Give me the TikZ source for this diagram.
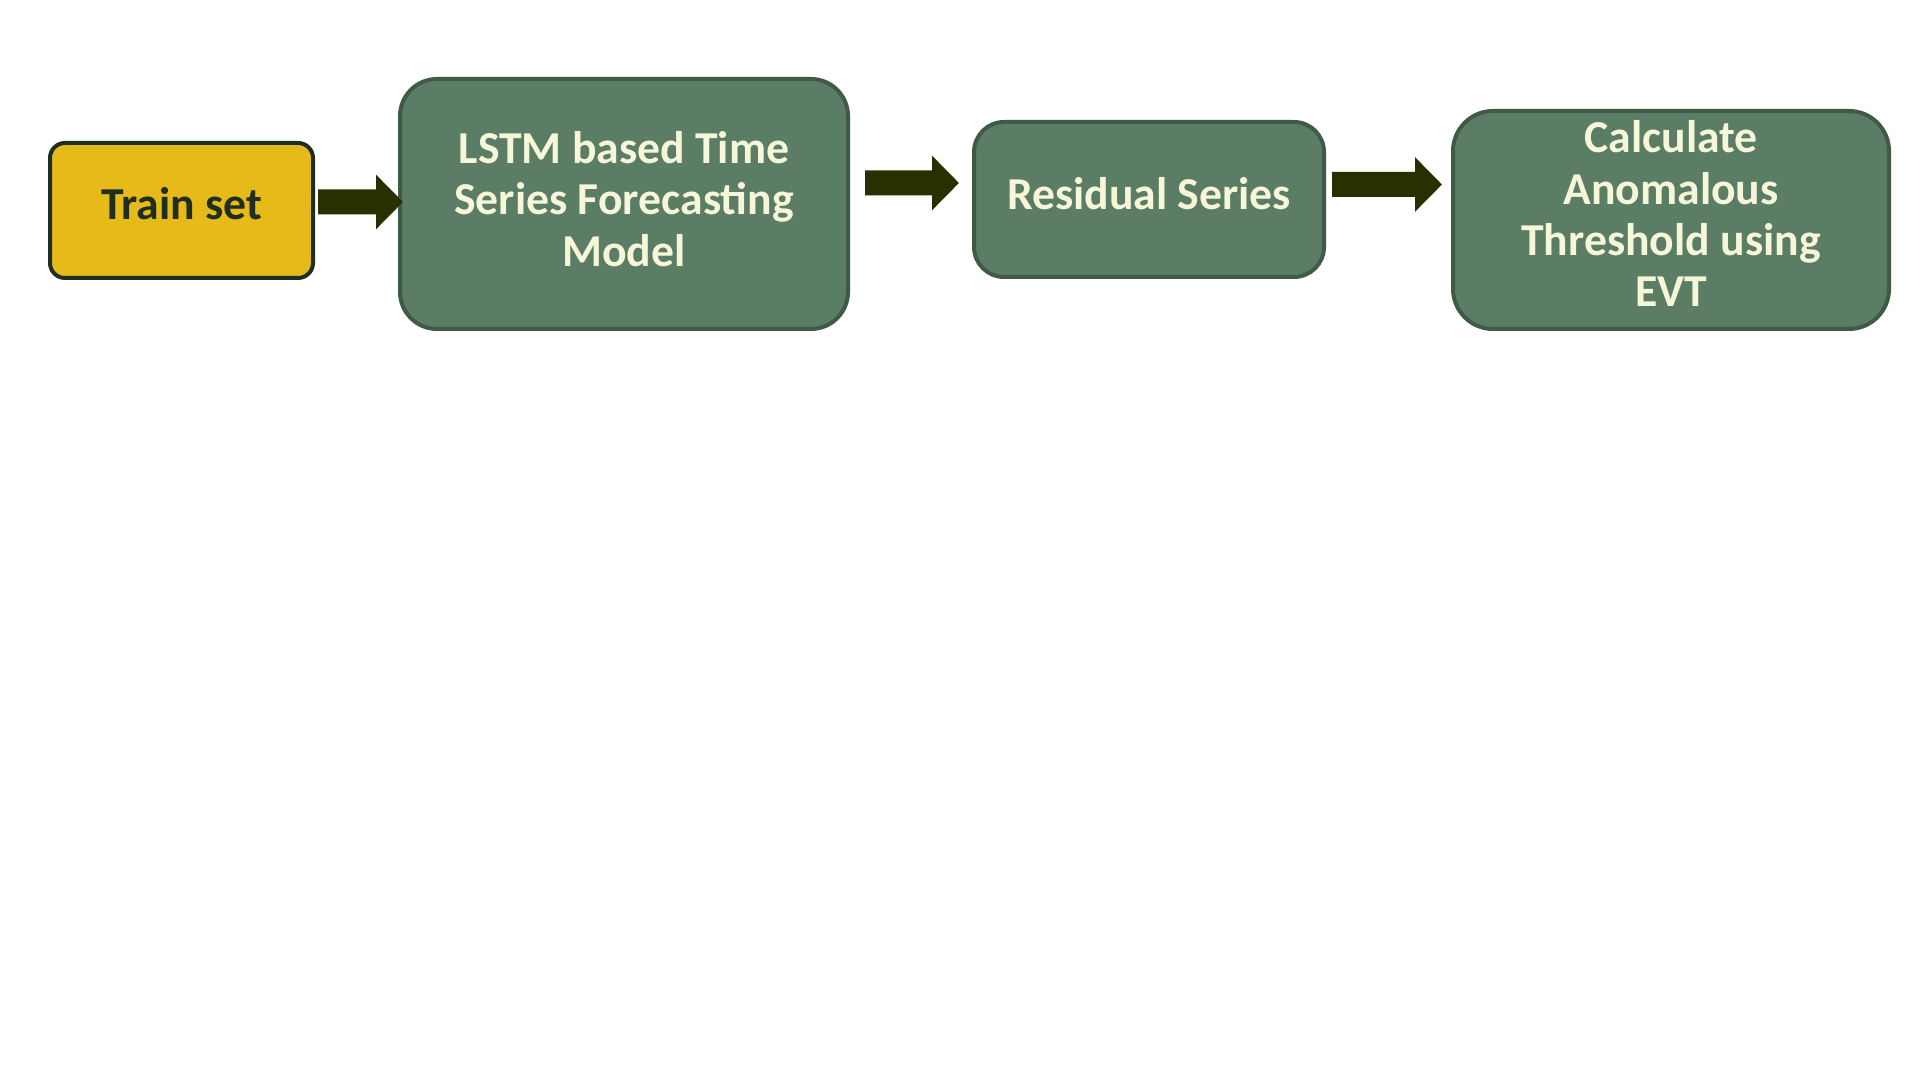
\documentclass[tikz,border=0pt]{standalone}
\usepackage{fontspec}
\setmainfont{Carlito}
\usetikzlibrary{arrows.meta}

\definecolor{boxgreen}{HTML}{5B7C65}
\definecolor{edgegreen}{HTML}{3F5A45}
\definecolor{trainyellow}{HTML}{E6BA18}
\definecolor{edgedark}{HTML}{1F2E1F}
\definecolor{arrowolive}{HTML}{283000}
\definecolor{creamtext}{HTML}{F6F6D8}

\begin{document}
\begin{tikzpicture}[
    stage/.style={draw=edgegreen, line width=0.04cm, fill=boxgreen, inner ysep=0pt,
      text=creamtext, align=center, font=\fontsize{13}{14.6}\selectfont\bfseries},
    flow/.style={arrowolive, line width=0.25cm,
      -{Triangle[length=0.27cm, width=0.53cm]}}
  ]
    %\draw[help lines, step=1] (0, 0) grid (19.2, 10.8);
    \useasboundingbox (0, 0) rectangle (19.2, 10.8);

    \node[draw=edgedark, line width=0.04cm, fill=trainyellow, rounded corners=0.15cm,
      text=edgedark, font=\fontsize{13}{14.6}\selectfont\bfseries, text depth=0.14cm,
      minimum width=2.63cm, minimum height=1.35cm] (train) at (1.815, 8.695) {Train set};

    \node[stage, rounded corners=0.37cm, minimum width=4.48cm, minimum height=2.5cm]
      (lstm) at (6.24, 8.76) {LSTM based Time\\Series Forecasting\\Model\\[-0.41cm]};
    \node[stage, rounded corners=0.3cm, minimum width=3.5cm, minimum height=1.55cm,
      text depth=0.12cm] (residual) at (11.49, 8.805) {Residual Series};
    \node[stage, rounded corners=0.4cm, minimum width=4.36cm, minimum height=2.18cm]
      (evt) at (16.71, 8.6) {Calculate\\Anomalous\\Threshold using\\EVT\\[-0.39cm]};

    \draw[flow] ([shift={(0.03, 0.085)}]train.east) -- ([shift={(0.05, 0.02)}]lstm.west);
    \draw[flow] ([shift={(0.15, 0.21)}]lstm.east) -- ([shift={(-0.13, 0.165)}]residual.west);
    \draw[flow] ([shift={(0.06, 0.15)}]residual.east) -- ([shift={(-0.09, 0.355)}]evt.west);

  \end{tikzpicture}
\end{document}
